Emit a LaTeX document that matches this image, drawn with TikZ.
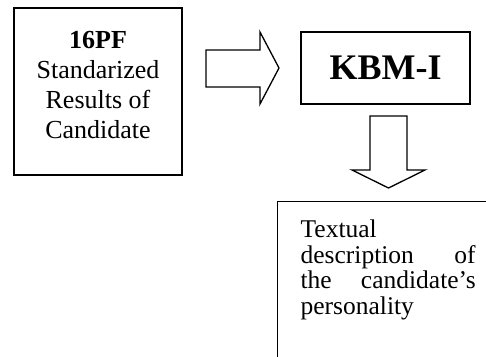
\documentclass[tikz,border=0pt]{standalone}
\usepackage{fontspec}
\setmainfont{Liberation Serif}
\begin{document}
\begin{tikzpicture}[x=1pt,y=-1pt,line width=1.3pt,
  box/.style={draw,inner sep=0pt},
  blockarrow/.style={draw,line join=miter}]
\useasboundingbox (0,0) rectangle (486,356);
\node[box,minimum width=168pt,minimum height=167pt] (pf) at (98,91.5) {};
\node[anchor=north,inner sep=0pt,align=center,font=\fontsize{26}{30}\selectfont] (pftext) at (98,31) {\textbf{16PF}\\Standarized\\Results of\\Candidate};
\node[box,minimum width=169pt,minimum height=72pt,font=\fontsize{36}{40}\selectfont\bfseries] (kbm) at (385.5,68) {KBM-I};
\node[box,anchor=north west,minimum width=230pt,minimum height=180pt] (desc) at (277,201) {};
\node[anchor=north west,inner sep=0pt,text width=175pt,align=left,font=\fontsize{25.5}{25.8}\selectfont] (desctext) at (300,219) {Textual\\description\hfill of\\the\hfill candidate's\\personality};
\draw[blockarrow] (206,50) -- (260,50) -- (260,32) -- (279,68) -- (260,104) -- (260,87) -- (206,87) -- cycle;
\draw[blockarrow] (370,116) -- (407,116) -- (407,170) -- (425,170) -- (388.5,188) -- (352,170) -- (370,170) -- cycle;
\end{tikzpicture}
\end{document}
